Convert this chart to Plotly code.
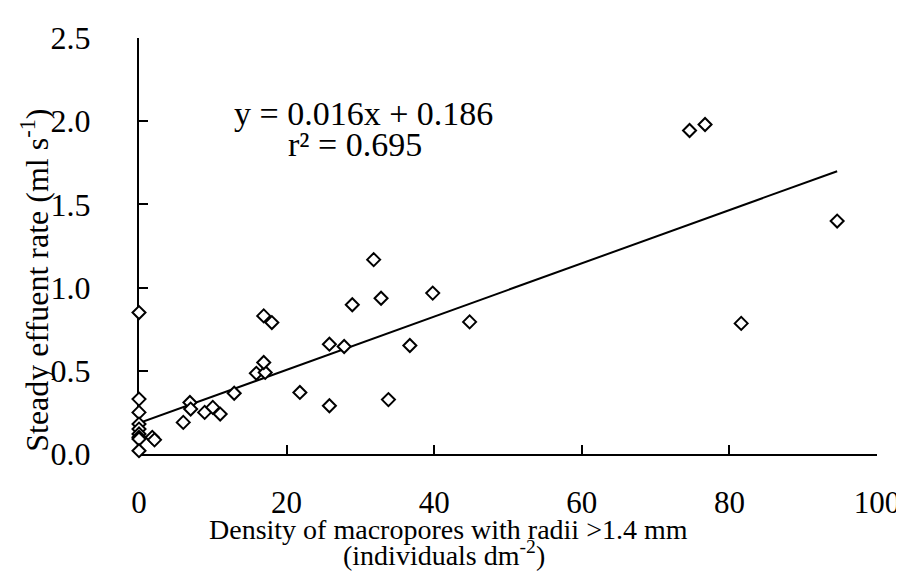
import plotly.graph_objects as go

# Data
density = [0, 0, 0, 0, 0, 0, 0, 0, 0,
           1.8, 2.1, 6.0, 6.9, 7.0, 8.9, 10.0, 11.0, 12.9,
           15.9, 17.1, 16.9, 16.9, 18.0, 21.8, 25.8, 25.8, 27.8,
           28.9, 31.8, 32.8, 33.8, 36.7, 39.8, 44.8,
           74.6, 76.7, 81.6, 94.6]
effluent = [0.85, 0.33, 0.25, 0.18, 0.15, 0.12, 0.10, 0.09, 0.02,
            0.10, 0.085, 0.19, 0.31, 0.27, 0.25, 0.28, 0.24, 0.365,
            0.485, 0.49, 0.55, 0.83, 0.79, 0.37, 0.66, 0.29, 0.646,
            0.897, 1.168, 0.936, 0.327, 0.652, 0.967, 0.794,
            1.944, 1.98, 0.785, 1.40]

slope = 0.016
intercept = 0.186
fit_x = [0, 94.6]
fit_y = [slope * v + intercept for v in fit_x]

x_ticks = [0, 20, 40, 60, 80, 100]
y_ticks = [0.0, 0.5, 1.0, 1.5, 2.0, 2.5]
y_ticklabels = ["0.0", "0.5", "1.0", "1.5", "2.0", "2.5"]

FONT = "Liberation Serif, Times New Roman, serif"
W, H = 904, 573
ML, MR, MT, MB = 131, 29, 23, 127

fig = go.Figure()
fig.add_trace(go.Scatter(x=fit_x, y=fit_y, mode="lines",
                         line=dict(color="black", width=2),
                         showlegend=False, cliponaxis=False))
fig.add_trace(go.Scatter(x=density, y=effluent, mode="markers",
                         marker=dict(symbol="diamond", size=10, color="white",
                                     line=dict(color="black", width=2)),
                         showlegend=False, cliponaxis=False))

fig.update_layout(
    width=W, height=H,
    margin=dict(l=ML, r=MR, t=MT, b=MB),
    plot_bgcolor="white", paper_bgcolor="white",
    font=dict(family=FONT, color="black", size=28),
    xaxis=dict(range=[0, 100], tickvals=x_ticks, ticks="inside", ticklen=9,
               tickwidth=2, tickcolor="black", showline=True, linecolor="black",
               linewidth=2, showgrid=False, zeroline=False, layer="below traces",
               tickfont=dict(size=31), ticklabelstandoff=20),
    yaxis=dict(range=[0, 2.5], tickvals=y_ticks, ticktext=y_ticklabels,
               ticks="inside", ticklen=9, tickwidth=2, tickcolor="black",
               showline=True, linecolor="black", linewidth=2, showgrid=False,
               zeroline=False, layer="below traces",
               tickfont=dict(size=32), ticklabelstandoff=40),
)


def px_to_paper(px, py):
    return (px - ML) / (W - ML - MR), (H - py - MB) / (H - MT - MB)


annotations = [
    ("y = 0.016x + 0.186", 357, 100, 34, 0),
    ("r² = 0.695", 349, 131, 34, 0),
    ("Density of macropores with radii >1.4 mm", 443, 523, 28, 0),
    ("(individuals dm<sup>-2</sup>)", 438, 547, 28, 0),
    ("Steady effuent rate (ml s<sup>-1</sup>)", 26, 269, 32, -90),
]
for text, px, py, size, ang in annotations:
    x, y = px_to_paper(px, py)
    fig.add_annotation(text=text, xref="paper", yref="paper", x=x, y=y,
                       textangle=ang, showarrow=False,
                       xanchor="center", yanchor="middle",
                       font=dict(family=FONT, size=size, color="black"))

fig.write_html("out.html")
